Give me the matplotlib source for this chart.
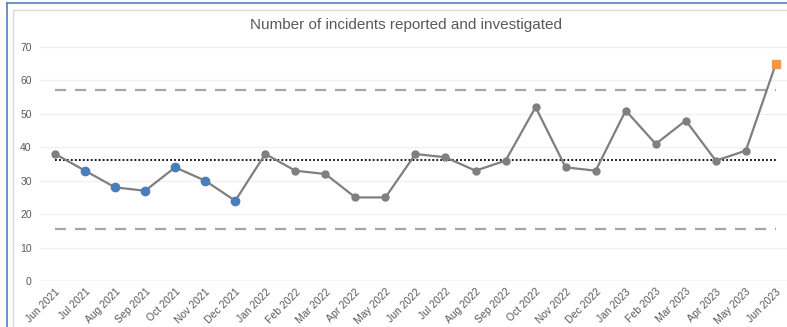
import matplotlib
matplotlib.use('Agg')
import matplotlib.pyplot as plt
from matplotlib.lines import Line2D
from matplotlib.patches import Rectangle
import numpy as np

months = ['Jun 2021', 'Jul 2021', 'Aug 2021', 'Sep 2021', 'Oct 2021', 'Nov 2021',
          'Dec 2021', 'Jan 2022', 'Feb 2022', 'Mar 2022', 'Apr 2022', 'May 2022',
          'Jun 2022', 'Jul 2022', 'Aug 2022', 'Sep 2022', 'Oct 2022', 'Nov 2022',
          'Dec 2022', 'Jan 2023', 'Feb 2023', 'Mar 2023', 'Apr 2023', 'May 2023',
          'Jun 2023']
incidents = [38, 33, 28, 27, 34, 30, 24, 38, 33, 32, 25, 25, 38, 37, 33, 36,
             52, 34, 33, 51, 41, 48, 36, 39, 65]
mean_value = 36.3
upper_limit = 57.1
lower_limit = 15.6
# special-cause flags: run below the mean, point above upper limit
run_idx = [1, 2, 3, 4, 5, 6]
outlier_idx = [24]

W, H = 787, 327
fig = plt.figure(figsize=(W / 100, H / 100), dpi=100)
plt.rcParams['font.family'] = ['Liberation Sans', 'DejaVu Sans']

# outer frames
fig.add_artist(Line2D([7 / W, 7 / W], [0, 1 - 3 / H], color='#4f81bd', lw=1.2))
fig.add_artist(Line2D([7 / W, 1], [1 - 3 / H, 1 - 3 / H], color='#4f81bd', lw=1.2))
fig.add_artist(Rectangle((13 / W, -0.1), 1.2, 1 - 10 / H + 0.1, fill=False,
                         edgecolor='#d9d9d9', lw=1.0, transform=fig.transFigure))

left, right = 40, 787
bottom, top = 281, 47
ax = fig.add_axes([left / W, 1 - bottom / H, (right - left) / W, (bottom - top) / H])

x = np.arange(len(months))
ax.set_xlim(-0.5, 24.37)
ax.set_ylim(0, 70)

ax.plot(x, [upper_limit] * len(x), color='#a6a6a6', lw=1.6, ls=(0, (5, 4)), zorder=2)
ax.plot(x, [lower_limit] * len(x), color='#a6a6a6', lw=1.6, ls=(0, (5, 4)), zorder=2)
ax.plot(x, [mean_value] * len(x), color='black', lw=1.3, ls=(0, (1, 1.2)), zorder=2)

ax.plot(x, incidents, color='#7f7f7f', lw=1.6, marker='o', ms=5,
        markerfacecolor='#7f7f7f', markeredgecolor='#7f7f7f', zorder=3)
ax.plot([x[i] for i in run_idx], [incidents[i] for i in run_idx], ls='none',
        marker='o', ms=6, color='#4a7ebb', zorder=4)
ax.plot([x[i] for i in outlier_idx], [incidents[i] for i in outlier_idx], ls='none',
        marker='s', ms=5.5, color='#f79646', zorder=4)

ax.set_yticks(range(0, 71, 10))
ax.yaxis.grid(True, color='#f0f0f0', lw=1.0)
ax.axhline(0, color='#d9d9d9', lw=1.0, zorder=1)
ax.set_axisbelow(True)
for s in ax.spines.values():
    s.set_visible(False)
ax.tick_params(axis='both', length=0, labelsize=7.5, labelcolor='#595959')
ax.tick_params(axis='y', pad=6)
ax.set_xticks(x)
ax.set_xticklabels(months, rotation=45, ha='right', rotation_mode='anchor')
ax.tick_params(axis='x', pad=4)

fig.text(406 / W, 1 - 25 / H, 'Number of incidents reported and investigated',
         ha='center', va='center', fontsize=11, color='#595959')

fig.savefig('out.png', dpi=100)
